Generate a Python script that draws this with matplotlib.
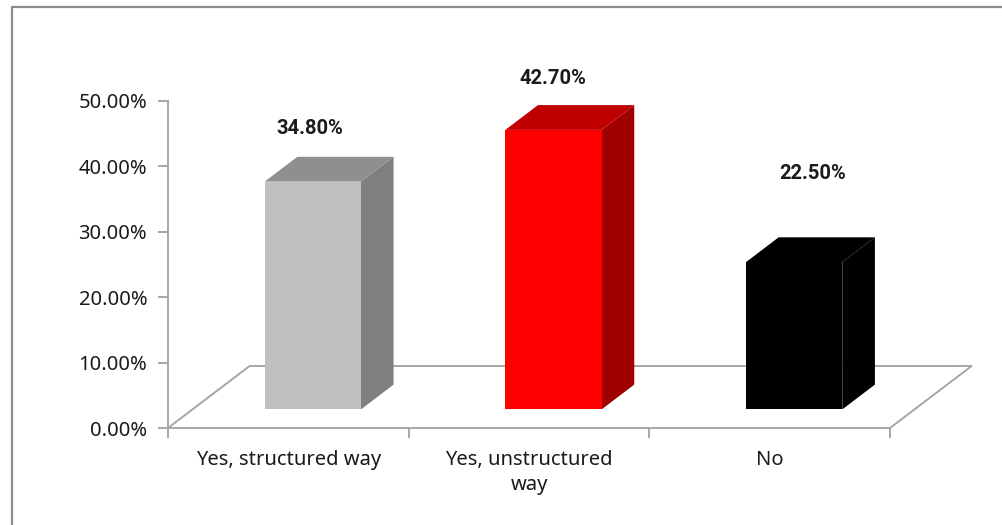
import matplotlib.pyplot as plt
from matplotlib.patches import Polygon, Rectangle

# data
categories = ['Yes, structured way', 'Yes, unstructured\nway', 'No']
values = [34.8, 42.7, 22.5]
face_colors = ['#C0C0C0', '#FF0000', '#000000']
side_colors = ['#7F7F7F', '#A00000', '#000000']
top_colors = ['#8F8F8F', '#C00000', '#000000']
yticks = [0, 10, 20, 30, 40, 50]

# label placement (Excel puts them a bit unevenly)
label_dx = [0.09, 0.10, 0.18]
label_lift = [11.0, 10.7, 16.4]

# depth of the floor in data units and where the bars sit inside it
ddx, ddy = 0.339, 9.47
f0, f1 = 0.3, 0.7
bw = 0.4

plt.rcParams['font.family'] = ['Noto Sans', 'DejaVu Sans']

fig = plt.figure(figsize=(10.02, 5.25), dpi=100)
ax = fig.add_axes([168 / 1002, 97 / 525, 722 / 1002, 327.3 / 525])
ax.set_xlim(0, 3)
ax.set_ylim(0, 50)

# outer chart frame
fig.patches.append(Rectangle((12 / 1002, -0.1), 1.2, (525 - 7) / 525 + 0.1,
                             transform=fig.transFigure, fill=False,
                             edgecolor='#8C8C8C', linewidth=1.6))

# floor
n = len(values)
ax.plot([0, ddx, n + ddx, n], [0, ddy, ddy, 0], color='#A6A6A6', lw=1.4,
        clip_on=False, zorder=1)

for i, (v, fc, sc, tc) in enumerate(zip(values, face_colors, side_colors, top_colors)):
    x0 = i + (1 - bw) / 2
    fxl, fy = x0 + f0 * ddx, f0 * ddy
    bxl, by = x0 + f1 * ddx, f1 * ddy
    # side
    ax.add_patch(Polygon([(fxl + bw, fy), (fxl + bw, fy + v), (bxl + bw, by + v), (bxl + bw, by)],
                         closed=True, facecolor=sc, edgecolor='none', zorder=3, clip_on=False))
    # top
    ax.add_patch(Polygon([(fxl, fy + v), (fxl + bw, fy + v), (bxl + bw, by + v), (bxl, by + v)],
                         closed=True, facecolor=tc, edgecolor='none', zorder=3, clip_on=False))
    # front
    ax.add_patch(Rectangle((fxl, fy), bw, v, facecolor=fc, edgecolor='none', zorder=4,
                           clip_on=False))
    ax.text(i + 0.5 + label_dx[i], v + label_lift[i], f'{v:.2f}%', ha='center', va='center',
            fontsize=14.5, fontweight='bold', color='#1A1A1A', family=['Roboto', 'DejaVu Sans'])

for s in ['top', 'right']:
    ax.spines[s].set_visible(False)
for s in ['left', 'bottom']:
    ax.spines[s].set_color('#A6A6A6')
    ax.spines[s].set_linewidth(1.4)

ax.set_yticks(yticks)
ax.set_yticklabels([f'{t:.2f}%' for t in yticks])
ax.set_xticks(range(n + 1))
ax.set_xticklabels([])
ax.set_xticks([i + 0.5 for i in range(n)], minor=True)
ax.set_xticklabels(categories, minor=True, linespacing=1.35)
ax.tick_params(axis='x', which='minor', length=0, pad=16, labelsize=14.5, labelcolor='#1A1A1A')
ax.tick_params(axis='x', which='major', length=7, color='#A6A6A6', width=1.4)
ax.tick_params(axis='y', length=7, color='#A6A6A6', width=1.4, labelsize=14.5,
               labelcolor='#1A1A1A', pad=8)

fig.savefig('out.png', dpi=100)
